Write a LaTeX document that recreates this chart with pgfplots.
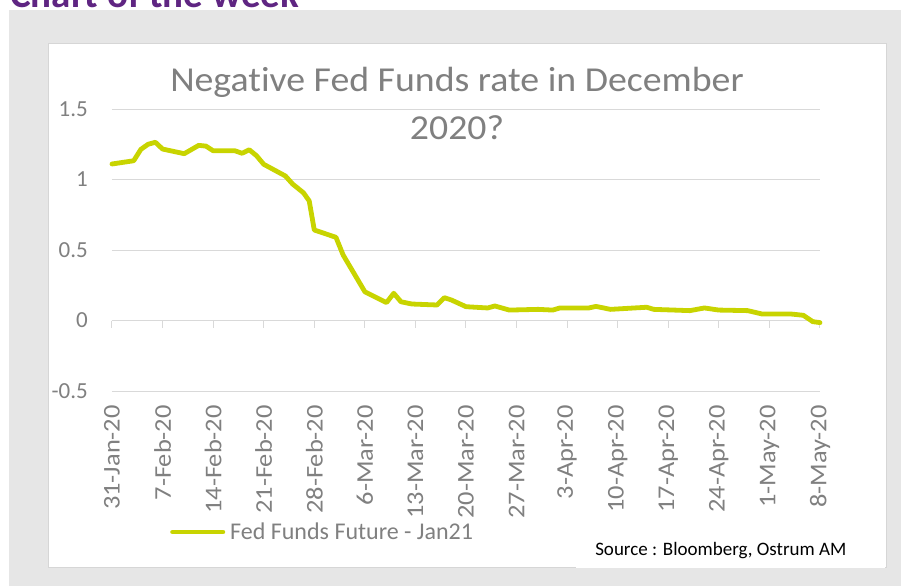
\documentclass[border=0pt]{standalone}
\usepackage{fontspec}
\setmainfont[Ligatures={NoCommon}]{Carlito}
\newfontfamily\titlefont[FakeStretch=1.08,Ligatures={NoCommon}]{Carlito}
\newfontfamily\xtickfont[FakeStretch=1.1,Ligatures={NoCommon}]{Carlito}
\usepackage{pgfplots}
\pgfplotsset{compat=1.18}
\definecolor{bg}{HTML}{E6E6E6}
\definecolor{panelborder}{HTML}{D6D6D6}
\definecolor{gridc}{HTML}{D9D9D9}
\definecolor{lime}{HTML}{C8D400}
\definecolor{txtgray}{HTML}{808080}
\definecolor{purp}{HTML}{5F2582}
\begin{document}
\begin{tikzpicture}
\useasboundingbox (0,0) rectangle (675.75pt,-439.5pt);
\clip (0,0) rectangle (675.75pt,-439.5pt);
\fill[white] (0,0) rectangle (675.75pt,-439.5pt);
\fill[bg] (6.75pt,-7.5pt) rectangle (675.75pt,-439.5pt);
\filldraw[fill=white, draw=panelborder, line width=0.75pt] (36pt,-32.25pt) rectangle (664.5pt,-425.25pt);
\fill[white] (432pt,-389.25pt) rectangle (663.75pt,-426pt);
\node[anchor=base west, inner sep=0pt, text=purp, font=\fontsize{29.25}{35}\selectfont\bfseries] at (7.5pt,-5.25pt) {Chart of the week};
\begin{axis}[
  at={(84pt,-293.25pt)}, anchor=south west, scale only axis,
  width=531pt, height=211.5pt,
  xmin=0, xmax=98, ymin=-0.5, ymax=1.5,
  axis line style={draw=none}, major tick length=0pt,
  xtick={0,7,14,21,28,35,42,49,56,63,70,77,84,91,98},
  xticklabels={31-Jan-20,7-Feb-20,14-Feb-20,21-Feb-20,28-Feb-20,6-Mar-20,13-Mar-20,20-Mar-20,27-Mar-20,3-Apr-20,10-Apr-20,17-Apr-20,24-Apr-20,1-May-20,8-May-20},
  ytick={-0.5,0,0.5,1,1.5}, yticklabels={-0.5,0,0.5,1,1.5},
  ymajorgrids, grid style={draw=gridc, line width=0.75pt},
  xticklabel style={rotate=90, anchor=east, inner sep=0pt, font=\xtickfont\fontsize{18}{20}\selectfont, text=txtgray},
  xticklabel shift=10.5pt,
  yticklabel style={anchor=east, inner sep=0pt, xshift=-18pt, font=\fontsize{17.25}{20}\selectfont, text=txtgray},
  clip=false,
  legend style={draw=none, fill=none, at={(axis description cs:0.0819,-0.5)}, anchor=west, inner sep=0pt,
    font=\fontsize{18}{20}\selectfont, text=txtgray, nodes={inner sep=0pt},
    /tikz/every odd column/.append style={column sep=3.75pt}},
  legend cell align=left,
  legend image code/.code={\draw[#1] (1.8pt,0pt) -- (39.45pt,0pt);},
]
\pgfplotsinvokeforeach{0,7,14,21,28,35,42,49,56,63,70,77,84,91,98}{
  \draw[gridc, line width=0.75pt] (axis cs:#1,0) -- ([yshift=-5.25pt]axis cs:#1,0);
}
\addplot[lime, line width=3.6pt, line cap=round, line join=round] coordinates {
(0,1.11) (3,1.133) (4,1.214) (5,1.25) (6,1.264) (7,1.216) (10,1.183) (12,1.242)
(13,1.237) (14,1.204) (17,1.204) (18,1.186) (19,1.211) (20,1.169) (21,1.108)
(24,1.025) (25,0.968) (26.5,0.906) (27.3,0.848) (28,0.642) (31,0.59) (32,0.464)
(35,0.204) (38,0.127) (39,0.193) (40,0.133) (41.5,0.117) (45,0.11) (46,0.162)
(47,0.145) (49,0.098) (52,0.089) (53,0.103) (55,0.074) (59,0.079) (61,0.074)
(62,0.089) (66,0.089) (67,0.1) (69,0.079) (74,0.094) (75,0.079) (80,0.07)
(82,0.089) (84,0.074) (88,0.07) (90,0.046) (94,0.046) (95.7,0.037) (97,-0.008) (98,-0.015)
};
\addlegendentry{Fed Funds Future - Jan21}
\end{axis}
\node[anchor=base, inner sep=0pt, text=txtgray, font=\titlefont\fontsize{26.25}{32}\selectfont] at (342.75pt,-68.25pt) {Negat\kern0pt ive Fed Funds rate in December};
\node[anchor=base, inner sep=0pt, text=txtgray, font=\titlefont\fontsize{26.25}{32}\selectfont] at (342.75pt,-104.25pt) {2020?};
\node[anchor=base west, inner sep=0pt, text=black, font=\fontsize{14.25}{17}\selectfont] at (446.25pt,-416.25pt) {Source : Bloomberg, Ostrum AM};
\end{tikzpicture}
\end{document}
